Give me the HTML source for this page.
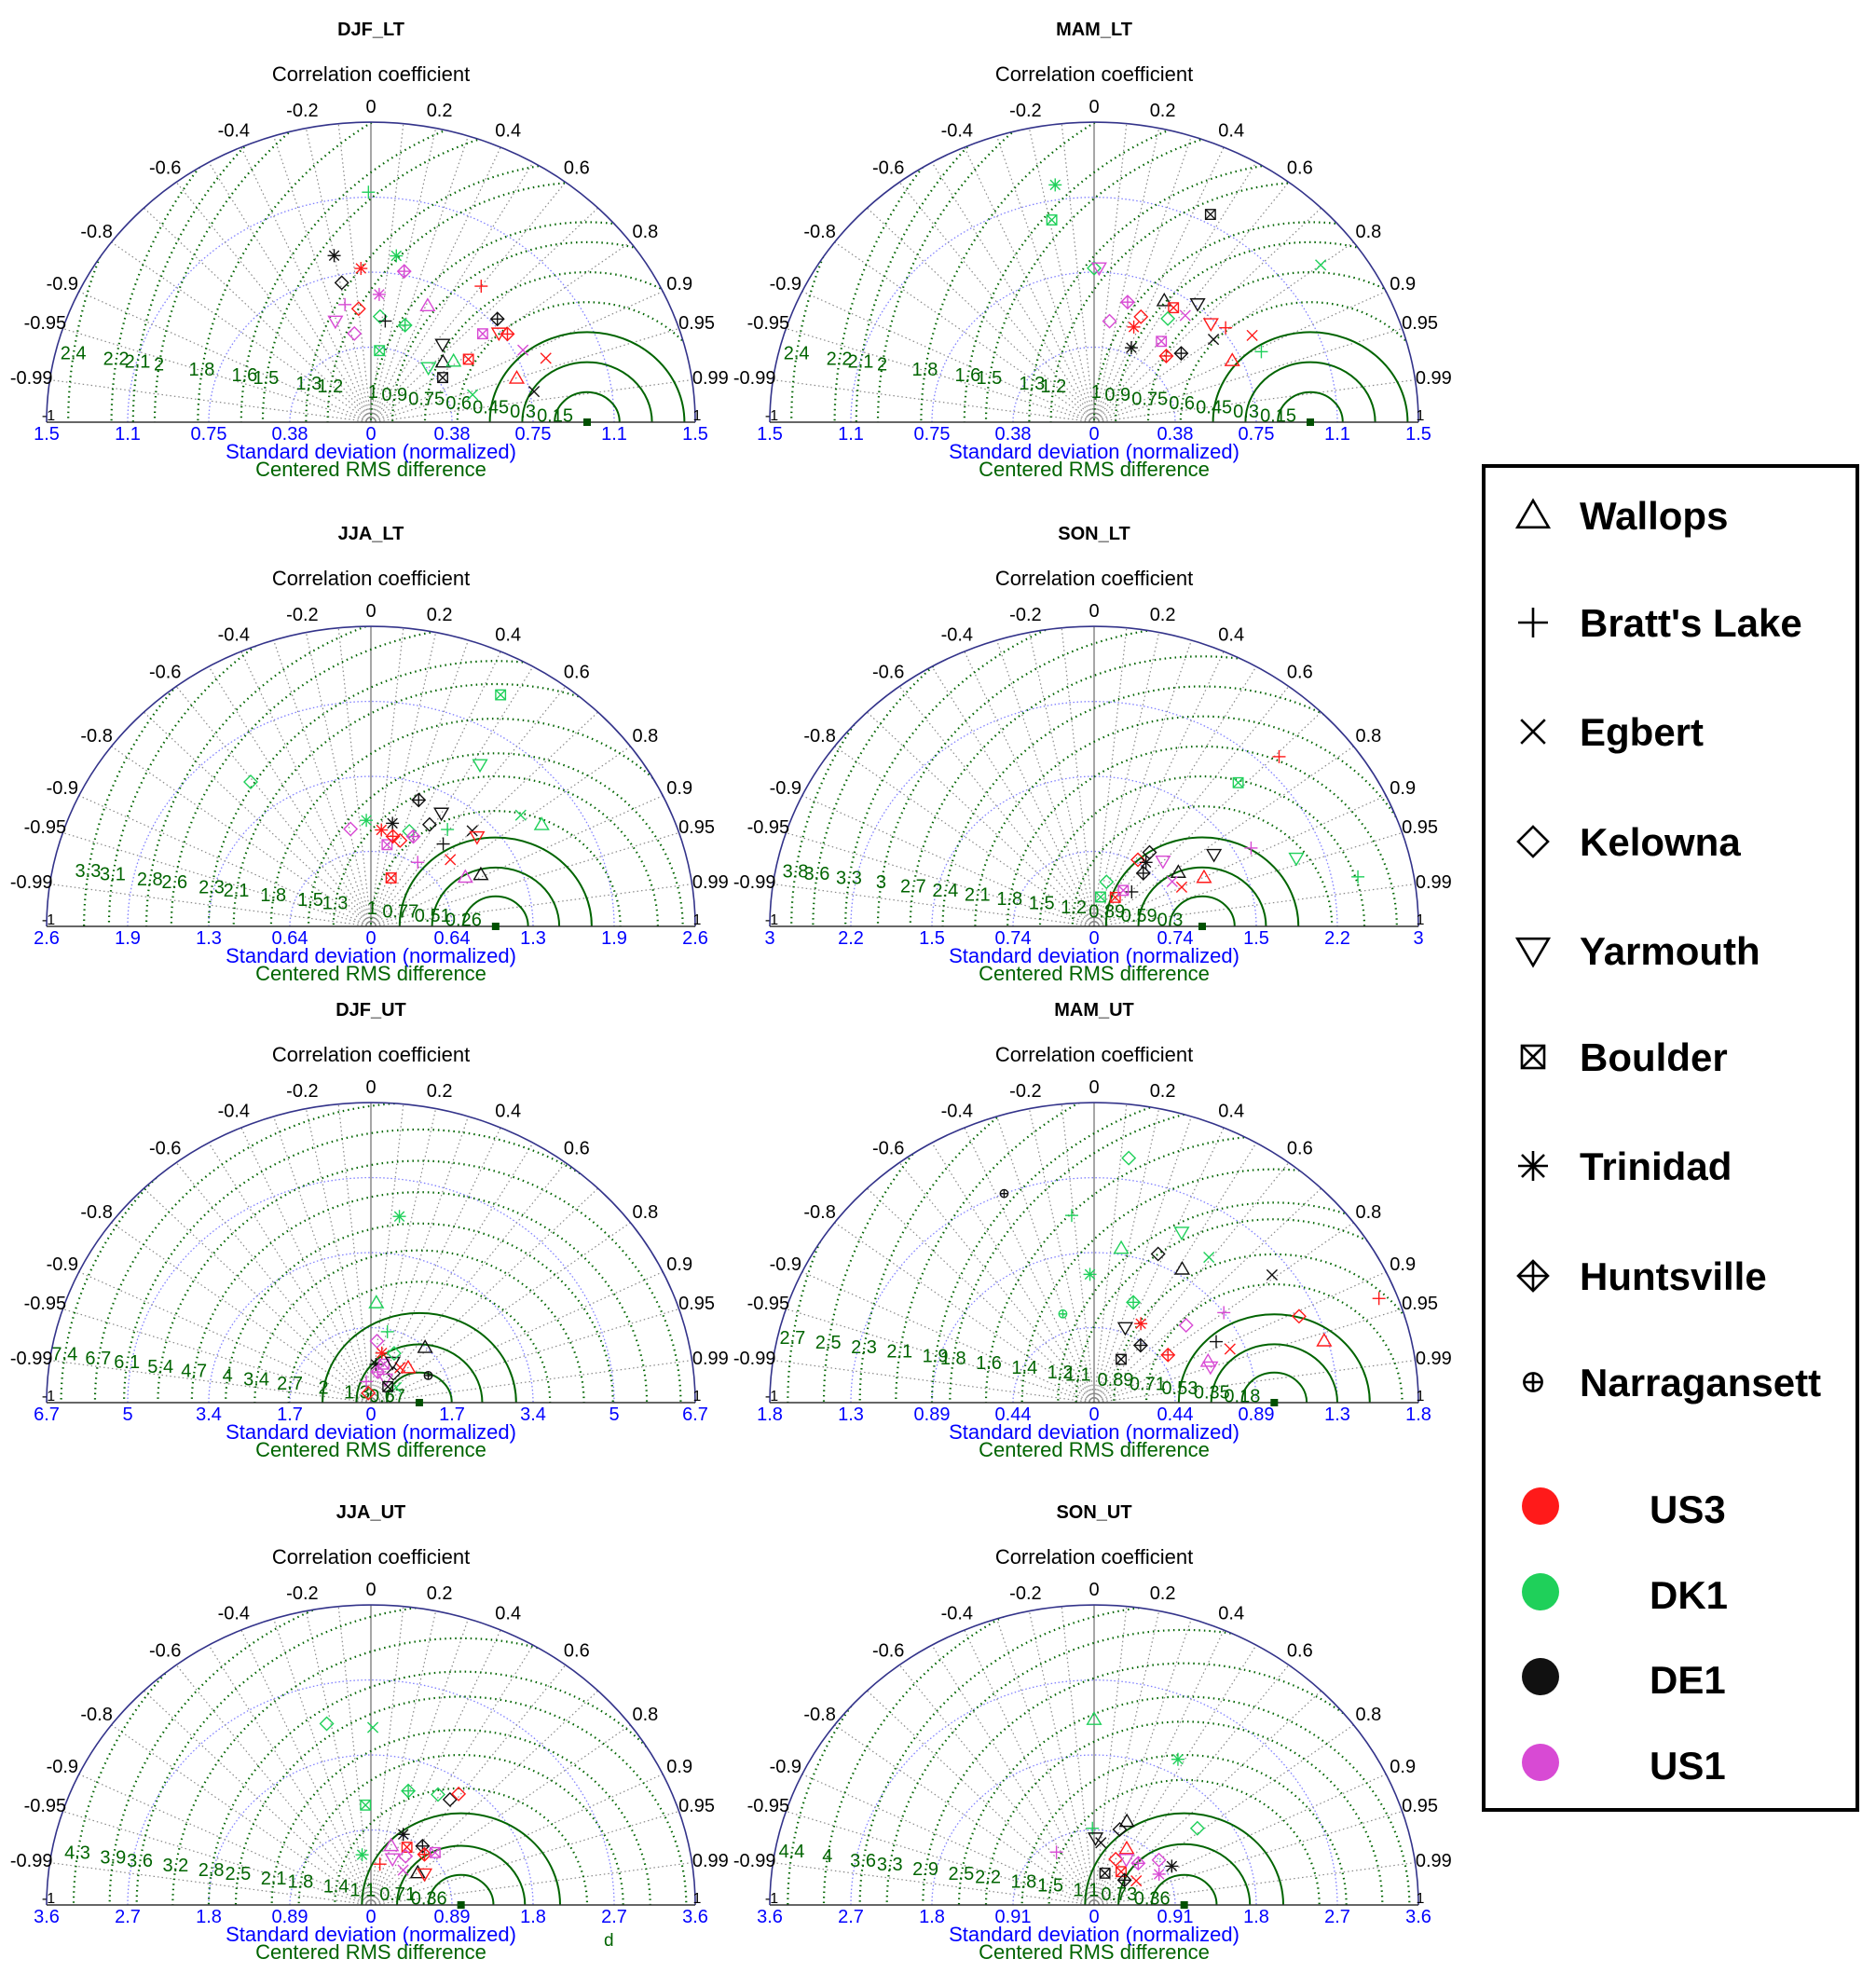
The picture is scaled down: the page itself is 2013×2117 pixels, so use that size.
<!DOCTYPE html>
<html><head><meta charset="utf-8"><style>
html,body{margin:0;padding:0;background:#fff;overflow:hidden;}
svg{display:block;font-family:"Liberation Sans",sans-serif;}
</style></head><body>
<svg id="chart" xmlns="http://www.w3.org/2000/svg" width="2013" height="2117" viewBox="0 0 2013 2117">
<rect x="0" y="0" width="2013" height="2117" fill="#fff"/>
<g id="panels"></g>
<text x="648" y="2088" font-size="19" fill="#006400">d</text>
<g id="legend"></g>
</svg>
<script>
// ---- Panel data (std normalized, correlation) ----
const titles = ["DJF_LT","MAM_LT","JJA_LT","SON_LT","DJF_UT","MAM_UT","JJA_UT","SON_UT"];
const stdMax = [1.5,1.5,2.6,3,6.7,1.8,3.6,3.6];
const stdTickLabels = [
 ["0","0.38","0.75","1.1","1.5"],["0","0.38","0.75","1.1","1.5"],
 ["0","0.64","1.3","1.9","2.6"],["0","0.74","1.5","2.2","3"],
 ["0","1.7","3.4","5","6.7"],["0","0.44","0.89","1.3","1.8"],
 ["0","0.89","1.8","2.7","3.6"],["0","0.91","1.8","2.7","3.6"]];
const rmsLevels = [
 [0.15,0.3,0.45,0.6,0.75,0.9,1,1.2,1.3,1.5,1.6,1.8,2,2.1,2.2,2.4],
 [0.15,0.3,0.45,0.6,0.75,0.9,1,1.2,1.3,1.5,1.6,1.8,2,2.1,2.2,2.4],
 [0.26,0.51,0.77,1,1.3,1.5,1.8,2.1,2.3,2.6,2.8,3.1,3.3],
 [0.3,0.59,0.89,1.2,1.5,1.8,2.1,2.4,2.7,3,3.3,3.6,3.8],
 [0.67,1.3,2,2.7,3.4,4,4.7,5.4,6.1,6.7,7.4],
 [0.18,0.35,0.53,0.71,0.89,1.1,1.2,1.4,1.6,1.8,1.9,2.1,2.3,2.5,2.7],
 [0.36,0.71,1.1,1.4,1.8,2.1,2.5,2.8,3.2,3.6,3.9,4.3],
 [0.36,0.73,1.1,1.5,1.8,2.2,2.5,2.9,3.3,3.6,4,4.4]];
const corrLabels = [0.2,0.4,0.6,0.8,0.9,0.95,0.99,-0.2,-0.4,-0.6,-0.8,-0.9,-0.95,-0.99];
const corrLines = [0.1,0.2,0.3,0.4,0.5,0.6,0.7,0.8,0.9,0.95,0.99,-0.1,-0.2,-0.3,-0.4,-0.5,-0.6,-0.7,-0.8,-0.9,-0.95,-0.99];
// station codes: W Wallops, B Bratt's Lake, E Egbert, K Kelowna, Y Yarmouth, O Boulder, T Trinidad, H Huntsville, N Narragansett
// model codes: r US3, g DK1, k DE1, m US1
const stations = [
 "BTTTHKBTBKWYKBHHKOYHYEEOWWOYOWEE",
 "TOOKYEHKKWOEYYBTOTEHHEWBK",
 "OKYEWTHTKYKTKBEYBHOEBOWWKH",
 "BOYBBYKKYWKOBTHOWEEO",
 "TWBWKTTKNEBEKOYHWKYO",
 "NKYBWKWEEBTHNKWBKYTEWHOYHB",
 "KEOHKKKTTHOWKHYBOWEY",
 "WTKWKBYBWTTEKHOYHEKO"];
const models = [
 "gkrgmkrmmrmmgkgkmmrrkmrgkgrgkrgk",
 "ggkgmgmmrkrmkrrrmkkrkrrgg",
 "ggggggkkkkmrggkrkmmrmrkmrr",
 "rgggmkkrmrgrkkkmkmrg",
 "gggkmrkkkrmgrmkmrgmk",
 "kggggkkgkrgggrrkmkrrmkkmrm",
 "gggggkrgkkrmmrmrmkmr",
 "gggkkgkmrkmkrmrmkrmk"];
const stdVals = [
 [1.15,.85,.77,.84,.77,.71,.85,.64,.60,.57,.64,.53,.53,.51,.51,.78,.45,.68,.74,.77,.51,.79,.87,.36,.45,.49,.55,.38,.40,.71,.49,.77],
 [1.2,1.03,1.17,.77,.77,1.31,.62,.51,.57,.69,.68,.68,.76,.73,.77,.51,.51,.41,.69,.47,.53,.85,.71,.85,.62],
 [2.26,1.58,1.65,1.54,1.63,.92,1.16,.91,1.0,1.13,.86,.84,.88,1.04,1.16,1.15,.92,.85,.72,.86,.67,.45,.99,.87,.78,.80],
 [2.41,1.96,1.99,2.49,1.65,1.32,.9,.78,.91,1.13,.46,.35,.49,.8,.7,.45,.95,.85,.9,.3],
 [4.2,2.24,1.62,1.67,1.38,1.13,.86,.8,1.33,.99,.48,.62,.22,.9,1.0,.7,1.1,1.2,.6,.5],
 [1.35,1.48,1.13,1.13,.94,.96,.94,1.08,1.25,1.7,.77,.64,.56,1.25,1.33,.77,.69,.48,.54,.82,.68,.43,.3,.68,.5,.9],
 [2.23,2.13,1.2,1.43,1.52,1.54,1.65,.61,.92,.91,.8,.75,.7,.85,.6,.5,.95,.65,.55,.7],
 [2.23,1.98,1.47,1.07,.95,.92,.8,.76,.77,.98,.81,.75,.6,.7,.5,.65,.45,.55,.9,.4]];
const corrVals = [
 [-.01,-.2,-.06,.14,.2,-.19,.6,.06,-.2,-.1,.41,-.31,.08,.13,.31,.75,-.17,.76,.8,.82,.65,.89,.93,.11,.74,.78,.82,.7,.83,.95,.96,.98],
 [-.15,-.19,.46,0,.03,.8,.25,.14,.38,.47,.54,.62,.63,.74,.79,.36,.61,.42,.8,.71,.76,.86,.9,.91,.55],
 [.46,-.61,.53,.78,.84,-.04,.33,.19,.47,.5,-.19,.1,.35,.59,.7,.74,.63,.4,.18,.74,.56,.36,.89,.87,.3,.22],
 [.71,.68,.94,.98,.88,.84,.57,.52,.7,.9,.25,.56,.71,.6,.65,.6,.82,.85,.9,.2],
 [.14,.05,.21,.67,.09,.2,.12,.58,.89,.61,-.2,.84,-.24,.3,.45,.2,.7,.4,.5,.7],
 [-.37,.13,.43,-.11,.16,.37,.52,.59,.79,.93,-.03,.34,-.31,.91,.96,.88,.74,.36,.48,.92,.93,.6,.5,.95,.82,.8],
 [-.22,.01,-.05,.29,.49,.57,.59,-.16,.39,.63,.5,.3,.55,.7,.4,.2,.75,.8,.65,.85],
 [0,.47,.78,.34,.3,-.02,.02,-.55,.47,.88,.89,.1,.4,.7,.6,.55,.75,.85,.8,.3]];
const stationNames = ["Wallops","Bratt's Lake","Egbert","Kelowna","Yarmouth","Boulder","Trinidad","Huntsville","Narragansett"];
const stationCodes = ["W","B","E","K","Y","O","T","H","N"];
const modelNames = ["US3","DK1","DE1","US1"];
const modelCodes = ["r","g","k","m"];
const modelColors = {r:"#ff1a1a",g:"#1fd05a",k:"#111111",m:"#d84ad4"};

// ---- layout ----
const NS="http://www.w3.org/2000/svg";
const colX=[398,1174], rowY=[453,994,1505,2044], R=348, KY=0.925;
function el(tag,attrs,parent){const e=document.createElementNS(NS,tag);for(const k in attrs)e.setAttribute(k,attrs[k]);if(parent)parent.appendChild(e);return e;}
function txt(parent,x,y,s,size,fill,anchor,weight){const t=el('text',{x:x,y:y,'font-size':size,fill:fill,'text-anchor':anchor||'middle','font-weight':weight||'normal'},parent);t.textContent=s;return t;}

function drawMarker(g,code,x,y,color,s,sw){
  const a={fill:'none',stroke:color,'stroke-width':sw};
  const line=(x1,y1,x2,y2)=>el('line',Object.assign({x1:x1,y1:y1,x2:x2,y2:y2},a),g);
  const poly=(p)=>el('polygon',Object.assign({points:p.map(q=>q.join(',')).join(' ')},a),g);
  if(code==='W')poly([[x,y-s],[x-s*1.05,y+s*0.8],[x+s*1.05,y+s*0.8]]);
  else if(code==='Y')poly([[x,y+s],[x-s*1.05,y-s*0.8],[x+s*1.05,y-s*0.8]]);
  else if(code==='B'){line(x-s,y,x+s,y);line(x,y-s,x,y+s);}
  else if(code==='E'){line(x-s*.8,y-s*.8,x+s*.8,y+s*.8);line(x-s*.8,y+s*.8,x+s*.8,y-s*.8);}
  else if(code==='K')poly([[x,y-s],[x+s,y],[x,y+s],[x-s,y]]);
  else if(code==='O'){el('rect',Object.assign({x:x-s*.75,y:y-s*.75,width:s*1.5,height:s*1.5},a),g);line(x-s*.75,y-s*.75,x+s*.75,y+s*.75);line(x-s*.75,y+s*.75,x+s*.75,y-s*.75);}
  else if(code==='T'){line(x-s,y,x+s,y);line(x,y-s,x,y+s);line(x-s*.75,y-s*.75,x+s*.75,y+s*.75);line(x-s*.75,y+s*.75,x+s*.75,y-s*.75);}
  else if(code==='H'){poly([[x,y-s],[x+s,y],[x,y+s],[x-s,y]]);line(x-s,y,x+s,y);line(x,y-s,x,y+s);}
  else if(code==='N'){el('circle',Object.assign({cx:x,cy:y,r:s*.6},a),g);line(x-s*.6,y,x+s*.6,y);line(x,y-s*.6,x,y+s*.6);}
}

const panelsG=document.getElementById('panels');
titles.forEach((title,p)=>{
  const cx=colX[p%2], by=rowY[Math.floor(p/2)], mx=stdMax[p];
  const sx=v=>v/mx*R; // std -> pixel radius
  const pt=(std,c)=>{const r=sx(std);const th=Math.acos(Math.max(-1,Math.min(1,c)));return [cx+r*Math.cos(th),by-r*KY*Math.sin(th)];};
  const g=el('g',{},panelsG);
  
  
  const RY=R*KY;
  const cid='clip'+p;
  const cp=el('clipPath',{id:cid},g);
  el('path',{d:`M${cx-R},${by} A${R},${RY} 0 0 1 ${cx+R},${by} Z`},cp);
  const t1=txt(g,cx,by-415,title,20,'#000','middle','bold');
  
  
  const t2=txt(g,cx,by-366,'Correlation coefficient',22,'#000');
  
  
  [0.25,0.5,0.75].forEach(f=>{
    el('path',{d:`M${cx-R*f},${by} A${R*f},${RY*f} 0 0 1 ${cx+R*f},${by}`,fill:'none',stroke:'#8080ff','stroke-width':1.3,'stroke-dasharray':'1.5 2.5'},g);
  });
  corrLines.forEach(c=>{
    const th=Math.acos(c);
    el('line',{x1:cx,y1:by,x2:cx+R*Math.cos(th),y2:by-RY*Math.sin(th),stroke:'#888','stroke-width':1.2,'stroke-dasharray':'1.5 3'},g);
  });
  el('line',{x1:cx,y1:by,x2:cx,y2:by-RY,stroke:'#888','stroke-width':1.5},g);
  const refX=cx+sx(1);
  const rg=el('g',{'clip-path':`url(#${cid})`},g);
  rmsLevels[p].forEach((v,i)=>{
    const rr=sx(v);
    const c=el('ellipse',{cx:refX,cy:by,rx:rr,ry:rr*KY,fill:'none',stroke:'#006400','stroke-width':i<3?2:2.2},rg);
    if(i>=3)c.setAttribute('stroke-dasharray','1.5 4');
  });
  rmsLevels[p].forEach((v,i)=>{
    const rr=sx(v), a=172*Math.PI/180;
    const x=refX+rr*Math.cos(a), y=by-rr*KY*Math.sin(a)+4;
    if(x<cx-R+12)return;
    const t=txt(g,x,y,String(v),20,'#006400');
    
    
  });
  el('path',{d:`M${cx-R},${by} A${R},${RY} 0 0 1 ${cx+R},${by}`,fill:'none',stroke:'#33338a','stroke-width':1.6},g);
  el('line',{x1:cx-R,y1:by,x2:cx+R,y2:by,stroke:'#333','stroke-width':1.6},g);
  txt(g,cx,by-RY-10,'0',20,'#000');
  corrLabels.forEach(c=>{
    const th=Math.acos(c);
    const t=txt(g,cx+(R+20)*Math.cos(th),by-(RY+20)*Math.sin(th)+7,String(c),20,'#000');
    
    
  });
  txt(g,cx-R+2,by-2,'-1',16,'#000');
  txt(g,cx+R+2,by-2,'1',16,'#000');
  stdTickLabels[p].forEach((s,i)=>{
    const x=R*i/4;
    const t=txt(g,cx+x,by+19,s,20,'#0000ff');
    
    
    if(i>0){const t2=txt(g,cx-x,by+19,s,20,'#0000ff');
      
      }
  });
  const a1=txt(g,cx,by+39,'Standard deviation (normalized)',22,'#0000ff');
  
  
  const a2=txt(g,cx,by+58,'Centered RMS  difference',22,'#006400');
  
  
  el('rect',{x:refX-4,y:by-4,width:8,height:8,fill:'#005000'},g);
  const mg=el('g',{},g);
  for(let i=0;i<stdVals[p].length;i++){
    const xy=pt(stdVals[p][i],corrVals[p][i]);
    const m=el('g',{},mg);
    
    
    drawMarker(m,stations[p][i],xy[0],xy[1],modelColors[models[p][i]],7,1.4);
  }
});

// ---- legend ----
const lg=document.getElementById('legend');
el('rect',{x:1592,y:500,width:401,height:1442,fill:'#fff',stroke:'#000','stroke-width':4},lg);
const stBase=[568,683,800,918,1035,1149,1266,1384,1498];
stationNames.forEach((n,i)=>{
  const g=el('g',{},lg);
  
  
  drawMarker(g,stationCodes[i],1645,stBase[i]-15,'#000',16,2.6);
  txt(g,1695,stBase[i],n,42,'#000','start','bold');
});
const mdY=[1616,1708,1799,1891];
modelNames.forEach((n,i)=>{
  const g=el('g',{},lg);
  
  
  el('circle',{cx:1653,cy:mdY[i],r:20,fill:modelColors[modelCodes[i]]},g);
  txt(g,1770,mdY[i]+18,n,42,'#000','start','bold');
});
</script>
</body></html>
